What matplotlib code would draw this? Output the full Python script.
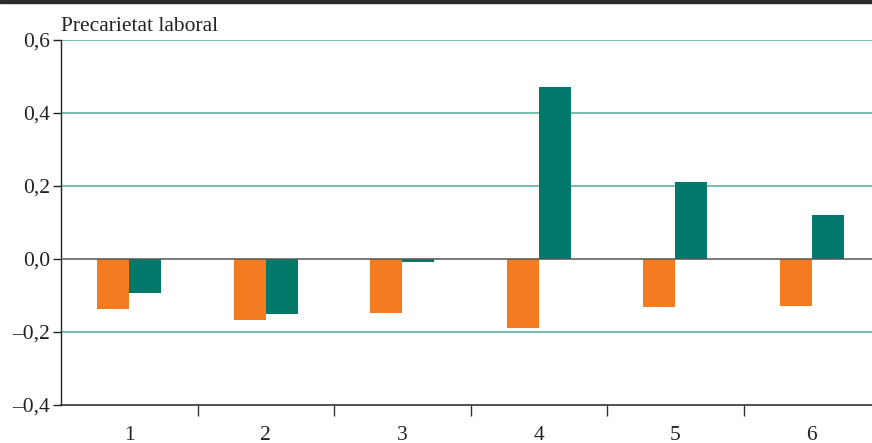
import matplotlib.pyplot as plt
import numpy as np
from matplotlib.patches import Rectangle

groups = ["1", "2", "3", "4", "5", "6"]
orange_vals = [-0.136, -0.167, -0.147, -0.188, -0.131, -0.129]
green_vals = [-0.092, -0.150, -0.007, 0.471, 0.211, 0.120]
yticks = [-0.4, -0.2, 0.0, 0.2, 0.4, 0.6]
ylabels = ["\u20130,4", "\u20130,2", "0,0", "0,2", "0,4", "0,6"]

plt.rcParams["font.family"] = ["Liberation Serif", "DejaVu Serif"]

fig = plt.figure(figsize=(8.72, 4.43), dpi=100)
W, H = 872, 443
ax = fig.add_axes([61 / W, 1 - 405 / H, 819 / W, 365 / H])

x = np.arange(1, len(groups) + 1)
bw = 0.234
ax.bar(x - bw / 2, orange_vals, width=bw, color="#f47b20", zorder=3)
ax.bar(x + bw / 2, green_vals, width=bw, color="#00786a", zorder=3)

for y in [-0.2, 0.2, 0.4, 0.6]:
    ax.axhline(y, color="#6db5ab", lw=1.3, zorder=1)
ax.axhline(0, color="#555555", lw=1.1, zorder=4)

ax.set_xlim(0.5, 6.5)
ax.set_ylim(-0.4, 0.6)
ax.set_yticks(yticks)
ax.set_yticklabels(ylabels, fontsize=15.5)
ax.tick_params(axis="y", direction="out", length=6, width=1, pad=2,
               colors="#222222")

ax.set_xticks(x)
ax.set_xticklabels(groups, fontsize=15.5)
ax.set_xticks(np.arange(1.5, 6.5, 1), minor=True)
ax.tick_params(axis="x", which="major", length=0, pad=15, colors="#222222")
ax.tick_params(axis="x", which="minor", direction="out", length=8,
               width=1, color="#333333")

for s in ["top", "right"]:
    ax.spines[s].set_visible(False)
ax.spines["left"].set_color("#222222")
ax.spines["bottom"].set_color("#333333")
ax.spines["left"].set_linewidth(1)
ax.spines["bottom"].set_linewidth(1.2)

ax.text(0, 1.012, "Precarietat laboral", transform=ax.transAxes,
        ha="left", va="bottom", fontsize=15.5, color="#222222")

fig.patches.append(Rectangle((0, 1 - 3 / H), 1, 3 / H,
                             transform=fig.transFigure,
                             color="#2b2b2b", zorder=10))

fig.savefig("out.png", dpi=100)
